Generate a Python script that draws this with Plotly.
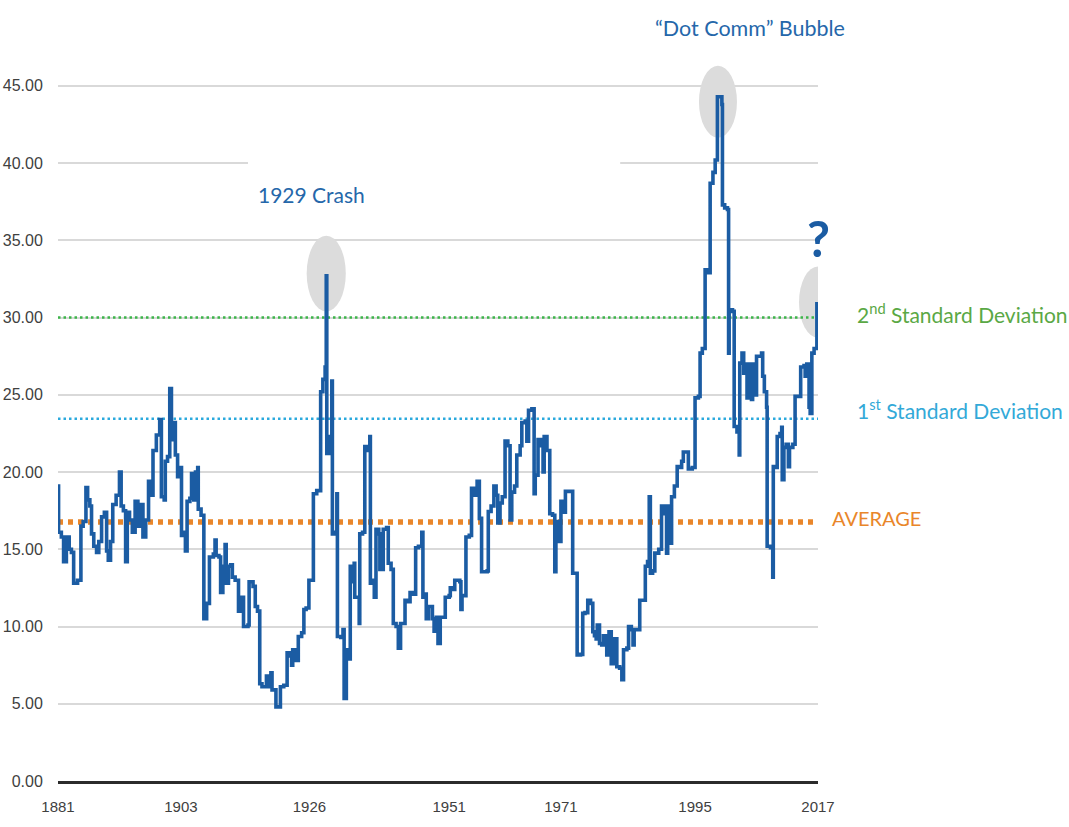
import plotly.graph_objects as go

# ---- data (year, CAPE value; step series) ----
years = [
    1881.0, 1881.1, 1881.6, 1882.0, 1882.5, 1883.0, 1883.4, 1883.8, 1884.5, 1885.1,
    1885.5, 1886.0, 1886.3, 1886.7, 1887.0, 1887.4, 1887.9, 1888.3, 1888.8, 1889.3,
    1889.7, 1890.0, 1890.4, 1890.8, 1891.4, 1892.0, 1892.3, 1892.7, 1893.1, 1893.4,
    1893.8, 1894.3, 1894.8, 1895.3, 1895.9, 1896.2, 1896.7, 1897.2, 1897.6, 1898.0,
    1898.6, 1899.2, 1899.5, 1900.0, 1900.2, 1900.6, 1901.0, 1901.3, 1901.8, 1902.0,
    1902.4, 1902.8, 1903.1, 1903.5, 1903.8, 1904.1, 1904.6, 1904.9, 1905.3, 1905.6,
    1906.0, 1906.1, 1906.6, 1907.1, 1907.6, 1908.1, 1908.8, 1909.1, 1909.3, 1909.8,
    1910.1, 1910.5, 1910.9, 1911.1, 1911.5, 1911.9, 1912.2, 1912.7, 1913.3, 1913.6,
    1913.9, 1914.2, 1915.0, 1915.2, 1915.9, 1916.3, 1916.7, 1917.1, 1917.5, 1918.3,
    1918.5, 1919.1, 1919.3, 1920.0, 1920.8, 1921.4, 1922.0, 1922.4, 1922.8, 1923.0,
    1923.4, 1924.0, 1924.6, 1925.0, 1925.4, 1925.9, 1926.7, 1927.3, 1928.0, 1928.4,
    1928.8, 1929.0, 1929.1, 1929.7, 1930.0, 1930.1, 1930.5, 1930.9, 1931.0, 1931.6,
    1932.0, 1932.2, 1932.6, 1933.1, 1933.3, 1933.7, 1934.0, 1934.1, 1934.9, 1935.0,
    1935.5, 1935.9, 1936.4, 1936.8, 1936.9, 1937.3, 1937.6, 1937.9, 1938.4, 1938.6,
    1939.2, 1939.8, 1940.1, 1940.6, 1941.0, 1941.5, 1941.9, 1942.3, 1943.1, 1943.6,
    1944.0, 1944.5, 1945.0, 1945.5, 1946.1, 1946.3, 1946.6, 1946.9, 1947.3, 1948.0,
    1948.3, 1948.7, 1949.0, 1949.4, 1950.3, 1951.0, 1951.2, 1951.7, 1952.0, 1952.9,
    1953.1, 1953.3, 1954.0, 1954.6, 1955.0, 1955.5, 1956.0, 1956.4, 1956.8, 1957.8,
    1958.0, 1958.5, 1959.0, 1959.4, 1959.7, 1960.1, 1960.5, 1961.0, 1961.5, 1961.9,
    1962.2, 1962.7, 1963.1, 1963.7, 1964.0, 1964.6, 1964.9, 1965.2, 1965.8, 1966.2,
    1966.4, 1966.9, 1967.4, 1967.8, 1968.0, 1968.5, 1969.0, 1969.5, 1969.9, 1970.1,
    1970.4, 1970.7, 1971.0, 1971.4, 1971.8, 1973.1, 1973.9, 1974.5, 1974.9, 1975.3,
    1975.8, 1976.3, 1976.7, 1977.0, 1977.3, 1977.5, 1977.9, 1978.3, 1978.6, 1979.2,
    1979.6, 1980.0, 1980.5, 1981.0, 1981.5, 1981.9, 1982.2, 1982.8, 1983.1, 1983.6,
    1983.9, 1984.1, 1985.1, 1986.1, 1986.5, 1986.8, 1987.0, 1987.4, 1987.8, 1988.5,
    1989.0, 1989.5, 1989.9, 1990.1, 1990.4, 1990.8, 1991.3, 1991.8, 1992.3, 1992.6,
    1992.9, 1993.8, 1994.5, 1995.0, 1995.6, 1995.9, 1996.3, 1996.8, 1997.4, 1997.7,
    1998.2, 1998.6, 1999.0, 1999.8, 1999.9, 2000.3, 2000.8, 2001.0, 2001.1, 2001.7,
    2002.0, 2002.5, 2002.9, 2003.0, 2003.4, 2003.7, 2004.0, 2004.3, 2004.6, 2004.9,
    2005.1, 2005.3, 2005.7, 2006.0, 2006.9, 2007.1, 2007.4, 2007.8, 2007.9, 2008.5,
    2008.9, 2009.0, 2009.5, 2009.7, 2010.2, 2010.5, 2010.6, 2010.9, 2011.3, 2011.7,
    2011.9, 2012.5, 2012.9, 2013.5, 2013.9, 2014.5, 2014.7, 2015.0, 2015.4, 2015.6,
    2015.9, 2016.3, 2016.8, 2017.0,
]
cape = [
    19.1, 16.1, 15.8, 14.2, 15.8, 15.0, 14.8, 12.8, 13.0, 16.5,
    16.8, 19.0, 18.2, 17.8, 16.0, 15.2, 14.8, 15.5, 17.1, 17.4,
    14.9, 14.3, 15.5, 17.9, 18.5, 20.0, 17.8, 17.5, 14.2, 17.4,
    16.9, 16.1, 18.1, 16.5, 17.9, 15.8, 16.9, 19.4, 18.5, 21.4,
    22.4, 23.4, 18.4, 18.2, 20.7, 21.0, 25.4, 22.1, 23.2, 21.1,
    19.7, 20.3, 15.9, 16.1, 14.9, 18.1, 18.3, 19.9, 18.2, 20.0,
    20.3, 17.6, 17.2, 10.5, 11.5, 14.5, 14.7, 15.6, 14.6, 14.5,
    12.2, 13.9, 15.3, 12.8, 13.9, 14.0, 13.2, 13.0, 11.0, 11.5,
    11.9, 10.0, 10.1, 12.9, 12.6, 11.3, 11.0, 6.3, 6.1, 6.8,
    6.1, 7.0, 5.9, 4.8, 6.1, 6.2, 8.3, 8.1, 7.5, 8.5,
    7.8, 9.35, 9.6, 11.1, 11.2, 13.0, 18.6, 18.8, 25.2, 26.0,
    26.8, 32.7, 21.2, 22.3, 25.9, 16.0, 16.1, 18.6, 9.35, 9.3,
    9.8, 5.35, 8.5, 7.9, 13.9, 12.9, 14.1, 11.9, 10.2, 16.0,
    16.1, 21.65, 21.4, 22.3, 12.8, 13.0, 11.9, 16.3, 16.0, 13.7,
    16.3, 16.4, 14.1, 13.7, 10.2, 10.0, 8.6, 10.2, 11.7, 11.6,
    12.2, 12.1, 15.1, 15.2, 16.1, 11.9, 12.1, 10.5, 11.3, 10.5,
    9.7, 10.6, 8.9, 10.6, 11.9, 12.0, 12.5, 12.4, 13.0, 12.9,
    11.1, 12.0, 15.8, 15.9, 18.95, 18.5, 19.4, 17.0, 13.55, 13.6,
    17.45, 17.8, 19.1, 18.5, 16.7, 18.0, 18.4, 22.0, 21.7, 16.9,
    18.7, 19.1, 21.1, 21.7, 23.2, 23.3, 22.0, 24.0, 24.1, 18.6,
    19.8, 22.1, 21.7, 20.0, 22.3, 21.4, 17.3, 17.2, 13.55, 16.4,
    16.8, 15.5, 18.1, 17.4, 18.75, 13.45, 8.16, 8.2, 10.85, 10.9,
    11.7, 11.5, 9.66, 9.4, 9.2, 10.1, 8.9, 8.8, 9.4, 8.16,
    9.66, 7.6, 9.2, 7.4, 7.3, 6.55, 8.5, 8.6, 10.0, 9.8,
    8.8, 9.8, 11.7, 13.9, 14.2, 18.4, 13.45, 13.6, 14.75, 15.0,
    17.8, 17.3, 14.75, 17.8, 15.4, 18.4, 19.1, 20.35, 20.3, 20.7,
    21.3, 20.2, 20.3, 24.8, 24.9, 27.7, 28.0, 33.1, 32.9, 38.7,
    39.4, 40.2, 44.3, 43.8, 37.3, 37.1, 37.0, 27.7, 30.5, 30.4,
    22.95, 22.6, 21.1, 27.05, 27.7, 26.4, 27.0, 24.8, 27.0, 26.2,
    24.7, 27.0, 25.0, 27.5, 27.7, 26.2, 25.2, 24.2, 15.2, 15.1,
    13.2, 20.35, 20.3, 22.3, 22.5, 22.9, 19.5, 21.6, 21.8, 20.35,
    21.6, 21.8, 24.9, 24.9, 26.8, 26.9, 26.2, 27.0, 24.2, 23.8,
    27.7, 28.0, 30.9, 30.9,
]

average_level = 16.77
sd1_level = 23.45
sd2_level = 30.0

x_tick_years = [1881, 1903, 1926, 1951, 1971, 1995, 2017]

# highlight ellipses: (center year, center value, half width in years, half height)
highlights = [
    (1929.0, 32.85, 3.5, 2.45),
    (1999.1, 43.98, 3.4, 2.33),
    (2017.0, 31.0, 3.4, 2.3),
]

LINE_BLUE = "#1b5ca3"
TEXT_BLUE = "#2567aa"
GREEN_LINE = "#3db54a"
GREEN_TEXT = "#5aa845"
CYAN_LINE = "#2ba9dd"
CYAN_TEXT = "#33a9d8"
ORANGE = "#e9862a"
LABEL_FONT = "Lato, Liberation Sans, Arial, sans-serif"

fig = go.Figure()

fig.add_trace(go.Scatter(
    x=years, y=cape, mode="lines",
    line=dict(color=LINE_BLUE, width=3.6, shape="hv"),
    hoverinfo="x+y", showlegend=False,
))

# ellipses (drawn above gridlines, below the data line)
for cx, cy, hw, hh in highlights:
    fig.add_shape(type="circle", xref="x", yref="y",
                  x0=cx - hw, x1=cx + hw, y0=cy - hh, y1=cy + hh,
                  fillcolor="#dcdcdc", line=dict(width=0), layer="between")

# white gap in the 40 gridline
fig.add_shape(type="rect", xref="x", yref="y", x0=1915.0, x1=1981.6, y0=39.6, y1=40.4,
              fillcolor="white", line=dict(width=0), layer="between")

# reference lines
fig.add_shape(type="line", xref="x", yref="y", x0=1881, x1=2017, y0=sd2_level, y1=sd2_level,
              line=dict(color=GREEN_LINE, width=2.5, dash="2.5px,3px"), layer="between")
fig.add_shape(type="line", xref="x", yref="y", x0=1881, x1=2017, y0=sd1_level, y1=sd1_level,
              line=dict(color=CYAN_LINE, width=2.5, dash="2.5px,3px"), layer="between")
fig.add_shape(type="line", xref="x", yref="y", x0=1881, x1=2017, y0=average_level, y1=average_level,
              line=dict(color=ORANGE, width=5.5, dash="5px,5px"), layer="between")

annots = [
    (1.0487, 0.6446, "left", "2<sup>nd</sup> Standard Deviation", GREEN_TEXT, 21),
    (1.0487, 0.5124, "left", "1<sup>st</sup> Standard Deviation", CYAN_TEXT, 21),
    (1.0158, 0.3623, "left", "AVERAGE", ORANGE, 20),
    (0.3342, 0.8072, "center", "1929 Crash", TEXT_BLUE, 21),
    (0.9105, 1.0372, "center", "\u201cDot Comm\u201d Bubble", TEXT_BLUE, 21.5),
    (1.0, 0.748, "center", "<b>?</b>", LINE_BLUE, 50),
]
for ax_, ay_, anchor, txt, col, sz in annots:
    fig.add_annotation(x=ax_, y=ay_, xref="paper", yref="paper", text=txt,
                       showarrow=False, xanchor=anchor, yanchor="middle",
                       font=dict(family=LABEL_FONT, size=sz, color=col))

fig.update_layout(
    width=1069, height=827,
    margin=dict(l=58, r=251, t=55, b=46, autoexpand=False),
    paper_bgcolor="white", plot_bgcolor="white",
    showlegend=False,
    font=dict(family="Liberation Sans, Arial, sans-serif", color="#404040"),
)
fig.update_xaxes(
    range=[1881, 2017], tickvals=x_tick_years, ticktext=[str(v) for v in x_tick_years],
    showgrid=False, zeroline=False, automargin=False,
    showline=True, linecolor="#2b2b2b", linewidth=2.5,
    ticks="outside", ticklen=10, tickcolor="rgba(0,0,0,0)",
    tickfont=dict(size=15, color="#404040"),
)
fig.update_yaxes(
    range=[0, 47], tick0=0, dtick=5, tickformat=".2f",
    showgrid=True, gridcolor="#d9d9d9", gridwidth=2, zeroline=False, automargin=False,
    ticks="outside", ticklen=11, tickcolor="rgba(0,0,0,0)",
    tickfont=dict(size=16, color="#404040"),
)

# remove the default 8px page margin so the figure fills the window exactly
fig.write_html("out.html", config={"displayModeBar": False},
               post_script="document.body.style.margin='0px';")
